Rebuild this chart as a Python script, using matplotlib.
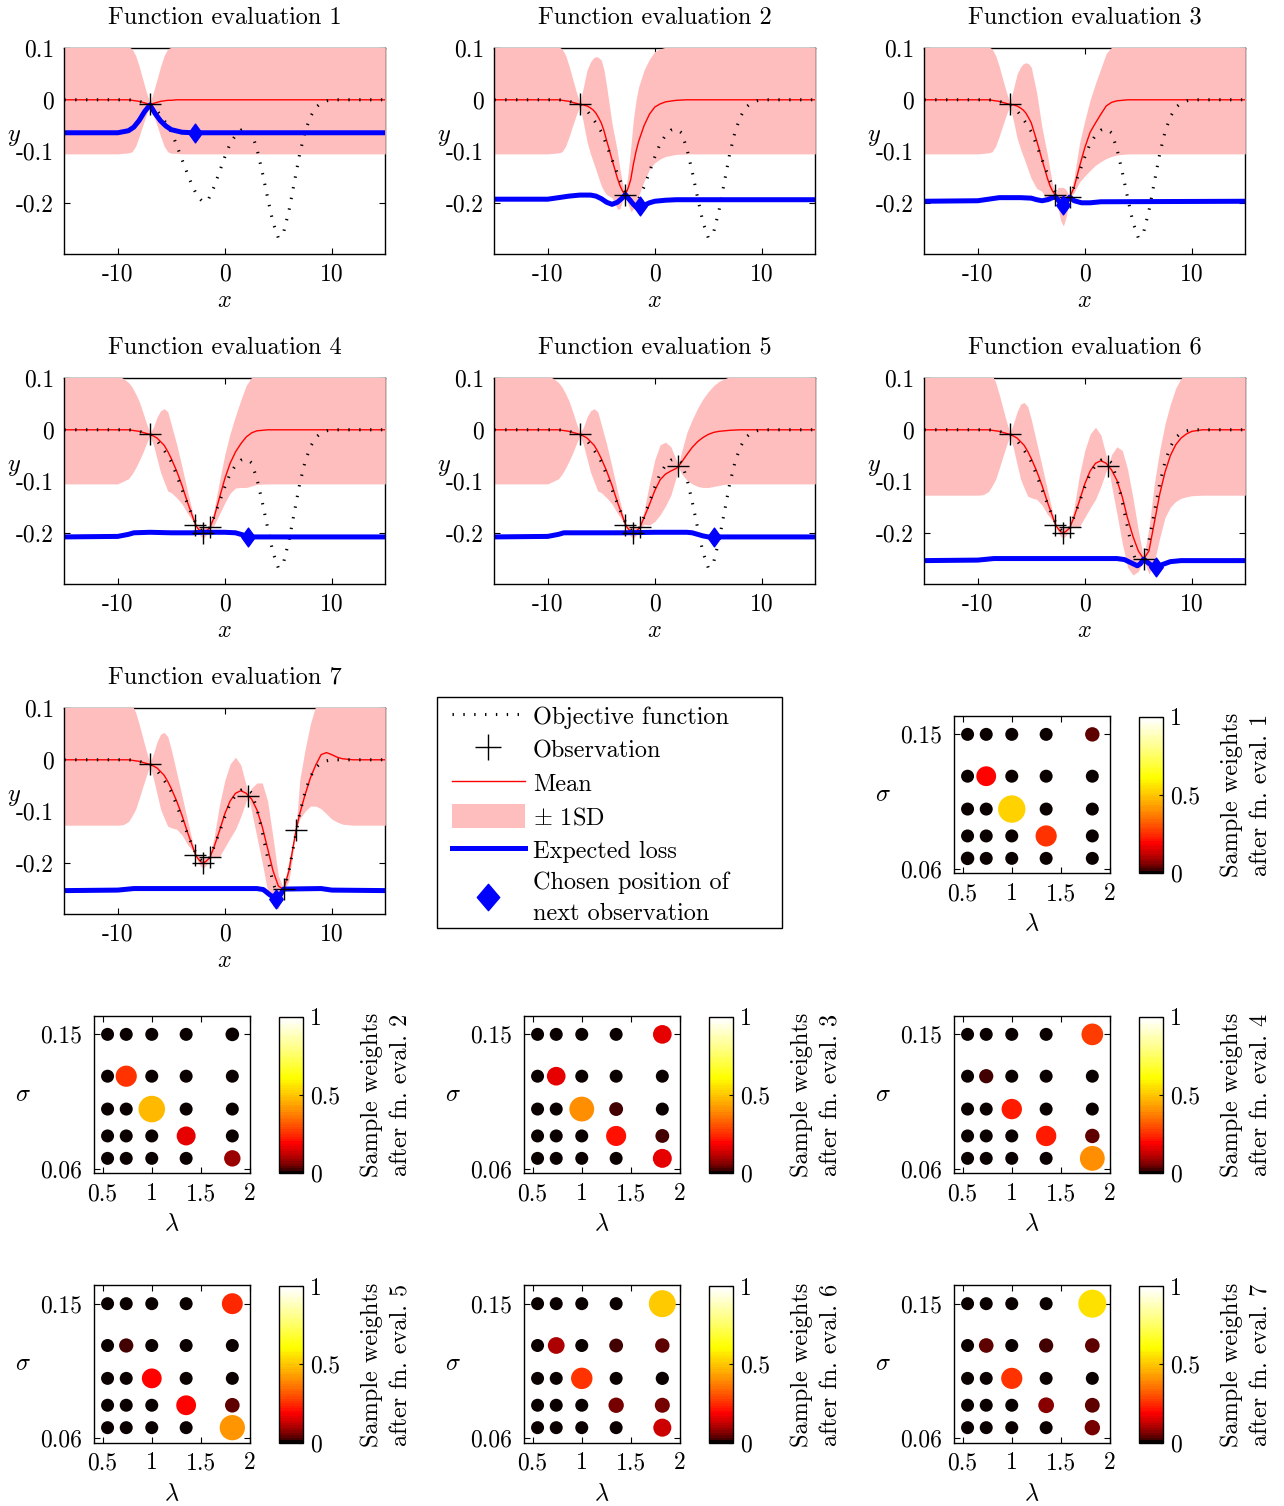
import numpy as np
import matplotlib
matplotlib.use("Agg")
import matplotlib.pyplot as plt
from matplotlib.colors import ListedColormap, Normalize
from matplotlib.cm import ScalarMappable
from matplotlib.lines import Line2D
from matplotlib.patches import Patch, Rectangle
from matplotlib.path import Path

plt.rcParams['font.family'] = ['cmr10', 'DejaVu Serif']
plt.rcParams['mathtext.fontset'] = 'cm'
plt.rcParams['axes.unicode_minus'] = False
plt.rcParams['axes.formatter.use_mathtext'] = False

# ---------------- data ----------------
OBJ_X = [-15, -9, -8.5, -8, -7.5, -7, -6.5, -6, -5.5, -5, -4.5, -4, -3.5, -3, -2.5, -2, -1.5, -1, -0.5, 0,
         0.5, 1, 1.5, 2, 2.5, 3, 3.5, 4, 4.5, 5, 5.5, 6, 6.5, 7, 7.5, 8, 8.5, 9, 9.5, 10, 15]
OBJ_Y = [0, 0, -0.001, -0.003, -0.006, -0.009, -0.017, -0.03, -0.045, -0.062, -0.088, -0.116, -0.143, -0.169,
         -0.189, -0.199, -0.192, -0.169, -0.14, -0.111, -0.085, -0.069, -0.059, -0.056, -0.064, -0.095, -0.14,
         -0.19, -0.238, -0.268, -0.257, -0.215, -0.16, -0.105, -0.062, -0.033, -0.015, -0.006, -0.002, 0, 0]

OBS_X = [-7.0, -2.75, -1.4, -2.0, 2.2, 5.5, 6.66]
OBS_Y = [-0.009, -0.184, -0.189, -0.2, -0.071, -0.251, -0.136]
NEXT_X = [-2.75, -1.4, -2.0, 2.2, 5.5, 6.66, 4.8]
NEXT_Y = [-0.064, -0.206, -0.204, -0.208, -0.208, -0.267, -0.27]

# eval 1
GP1_X = [-15, -10, -9.5, -9, -8.67, -8.33, -8, -7.67, -7.33, -7, -6.67, -6.33, -6, -5.67, -5.33, -5, -4.5, -4, 15]
GP1_MEAN = [0, 0, 0, 0, -0.001, -0.002, -0.003, -0.005, -0.007, -0.009, -0.007, -0.005, -0.003, -0.002, -0.001,
            -0.001, 0, 0, 0]
GP1_LO = [-0.105, -0.105, -0.104, -0.103, -0.101, -0.09, -0.071, -0.05, -0.029, -0.012, -0.029, -0.05, -0.071,
          -0.09, -0.101, -0.104, -0.104, -0.105, -0.105]
GP1_HI = [0.105, 0.105, 0.104, 0.103, 0.099, 0.086, 0.065, 0.04, 0.015, -0.006, 0.015, 0.04, 0.065, 0.086,
          0.099, 0.102, 0.104, 0.105, 0.105]
LOSS1_X = [-15, -10, -9, -8.5, -8, -7.5, -7, -6.5, -6, -5.5, -5, -4, -3, 15]
LOSS1_Y = [-0.064, -0.064, -0.06, -0.053, -0.04, -0.023, -0.01, -0.027, -0.041, -0.051, -0.058, -0.063, -0.064, -0.064]

# eval 2
GP2_X = [-15, -10, -9.5, -9, -8.67, -8.33, -8, -7.67, -7.33, -7, -6.67, -6.33, -6, -5.75, -5.5, -5.25, -5, -4.75,
         -4.5, -4, -3.5, -3.25, -3, -2.75, -2.5, -2.25, -2, -1.75, -1.5, -1, -0.5, 0, 0.5, 1, 2, 3, 15]
GP2_MEAN = [0, 0, 0, 0, -0.001, -0.002, -0.003, -0.005, -0.007, -0.009, -0.01, -0.012, -0.016, -0.02, -0.026,
            -0.035, -0.045, -0.06, -0.079, -0.116, -0.152, -0.167, -0.178, -0.184, -0.172, -0.155, -0.125, -0.1,
            -0.08, -0.05, -0.028, -0.014, -0.008, -0.004, -0.001, 0, 0]
GP2_LO = [-0.105, -0.105, -0.104, -0.103, -0.101, -0.09, -0.071, -0.05, -0.029, -0.012, -0.045, -0.082, -0.106,
          -0.121, -0.136, -0.152, -0.167, -0.177, -0.184, -0.19, -0.212, -0.212, -0.195, -0.186, -0.202, -0.217,
          -0.212, -0.2, -0.186, -0.158, -0.135, -0.122, -0.115, -0.11, -0.106, -0.105, -0.105]
GP2_HI = [0.105, 0.105, 0.104, 0.103, 0.099, 0.086, 0.065, 0.04, 0.015, -0.006, 0.025, 0.058, 0.074, 0.081,
          0.084, 0.082, 0.077, 0.058, 0.026, -0.046, -0.1, -0.135, -0.164, -0.182, -0.142, -0.093, -0.038, 0.0,
          0.026, 0.058, 0.079, 0.094, 0.099, 0.102, 0.104, 0.105, 0.105]
LOSS2_X = [-15, -10, -9, -8, -7, -6, -5.5, -5, -4.5, -4, -3.5, -3, -2.75, -2.4, -2, -1.7, -1.4, -1, -0.5, 0, 1, 2, 15]
LOSS2_Y = [-0.193, -0.193, -0.19, -0.187, -0.185, -0.185, -0.187, -0.192, -0.199, -0.203, -0.199, -0.19, -0.184,
           -0.193, -0.203, -0.209, -0.21, -0.205, -0.2, -0.197, -0.195, -0.194, -0.194]

# eval 3
GP3_X = [-15, -10, -9.5, -9, -8.67, -8.33, -8, -7.67, -7.33, -7, -6.67, -6.33, -6, -5.75, -5.5, -5.25, -5, -4.5,
         -4, -3.5, -3.25, -3, -2.75, -2.5, -2.25, -2, -1.75, -1.4, -1, -0.5, 0, 0.5, 1, 1.5, 2, 2.5, 3, 4, 15]
GP3_MEAN = [0, 0, 0, 0, -0.001, -0.002, -0.003, -0.005, -0.007, -0.009, -0.01, -0.012, -0.016, -0.02, -0.026,
            -0.035, -0.045, -0.079, -0.116, -0.152, -0.167, -0.178, -0.184, -0.19, -0.198, -0.203, -0.2, -0.189,
            -0.17, -0.13, -0.093, -0.063, -0.045, -0.028, -0.012, -0.005, -0.002, 0, 0]
GP3_LO = [-0.105, -0.105, -0.104, -0.103, -0.101, -0.09, -0.071, -0.05, -0.029, -0.012, -0.041, -0.074, -0.096,
          -0.11, -0.124, -0.139, -0.153, -0.172, -0.178, -0.198, -0.197, -0.191, -0.186, -0.21, -0.235, -0.245,
          -0.228, -0.191, -0.18, -0.16, -0.148, -0.137, -0.127, -0.12, -0.114, -0.11, -0.107, -0.105, -0.105]
GP3_HI = [0.105, 0.105, 0.104, 0.103, 0.099, 0.086, 0.065, 0.04, 0.015, -0.006, 0.021, 0.05, 0.064, 0.07,
          0.072, 0.07, 0.063, 0.014, -0.054, -0.106, -0.137, -0.165, -0.182, -0.17, -0.17, -0.17, -0.175, -0.187,
          -0.15, -0.085, -0.04, 0.0, 0.032, 0.061, 0.09, 0.102, 0.105, 0.105, 0.105]
LOSS3_X = [-15, -10, -9, -8, -6, -5, -4.5, -4, -3.5, -3, -2.75, -2.4, -2, -1.7, -1.4, -1, -0.3, 0.5, 1.5, 15]
LOSS3_Y = [-0.197, -0.196, -0.193, -0.19, -0.19, -0.191, -0.194, -0.196, -0.194, -0.19, -0.188, -0.197, -0.205,
           -0.197, -0.189, -0.196, -0.2, -0.2, -0.198, -0.197]

# eval 4
GP4_X = [-15, -10, -9.5, -9, -8.67, -8.33, -8, -7.67, -7.33, -7, -6.67, -6.33, -6, -5.67, -5.33, -5, -4.5, -4,
         -3.5, -3, -2.75, -2.5, -2.25, -2, -1.75, -1.4, -1, -0.5, 0, 0.5, 1, 1.5, 2, 2.5, 3, 4, 15]
GP4_MEAN = [0, 0, 0, 0, -0.001, -0.002, -0.003, -0.005, -0.007, -0.009, -0.012, -0.016, -0.023, -0.03, -0.042,
            -0.056, -0.08, -0.108, -0.14, -0.169, -0.184, -0.192, -0.198, -0.2, -0.197, -0.19, -0.17, -0.132,
            -0.095, -0.065, -0.043, -0.027, -0.014, -0.006, -0.002, 0, 0]
GP4_LO = [-0.105, -0.105, -0.1, -0.095, -0.086, -0.074, -0.06, -0.045, -0.027, -0.012, -0.029, -0.057, -0.083,
          -0.101, -0.119, -0.122, -0.132, -0.144, -0.162, -0.177, -0.186, -0.2, -0.207, -0.21, -0.205, -0.192,
          -0.185, -0.164, -0.142, -0.123, -0.113, -0.112, -0.112, -0.109, -0.106, -0.105, -0.105]
GP4_HI = [0.105, 0.105, 0.1, 0.092, 0.083, 0.07, 0.055, 0.035, 0.013, -0.006, 0.005, 0.025, 0.037, 0.041, 0.035,
          0.01, -0.028, -0.072, -0.118, -0.161, -0.182, -0.184, -0.189, -0.19, -0.189, -0.188, -0.155, -0.1,
          -0.048, -0.007, 0.027, 0.058, 0.086, 0.102, 0.106, 0.105, 0.105]
LOSS4_X = [-15, -10, -9, -8.5, -7, -5, -3, -2, 0, 1, 1.5, 2, 2.3, 15]
LOSS4_Y = [-0.208, -0.207, -0.203, -0.2, -0.199, -0.2, -0.2, -0.199, -0.199, -0.2, -0.203, -0.206, -0.208, -0.208]

# eval 5
GP5_X = [-15, -10, -9.5, -9, -8.67, -8.33, -8, -7.67, -7.33, -7, -6.67, -6.33, -6, -5.67, -5.33, -5, -4.5, -4,
         -3.5, -3, -2.75, -2.5, -2.25, -2, -1.75, -1.4, -1, -0.5, 0, 0.5, 1, 1.5, 2, 2.2, 2.5, 3, 3.5, 4, 4.5, 5,
         5.5, 6, 6.5, 7, 8, 15]
GP5_MEAN = [0, 0, 0, 0, -0.001, -0.002, -0.003, -0.005, -0.007, -0.009, -0.012, -0.016, -0.023, -0.03, -0.042,
            -0.056, -0.08, -0.108, -0.14, -0.169, -0.184, -0.192, -0.198, -0.2, -0.197, -0.19, -0.17, -0.145,
            -0.118, -0.097, -0.086, -0.08, -0.075, -0.071, -0.063, -0.048, -0.034, -0.023, -0.015, -0.009,
            -0.005, -0.003, -0.002, -0.001, 0, 0]
GP5_LO = [-0.105, -0.105, -0.1, -0.095, -0.086, -0.074, -0.06, -0.045, -0.027, -0.012, -0.029, -0.057, -0.083,
          -0.101, -0.119, -0.122, -0.132, -0.144, -0.162, -0.177, -0.186, -0.2, -0.207, -0.21, -0.205, -0.192,
          -0.184, -0.185, -0.178, -0.165, -0.148, -0.127, -0.092, -0.073, -0.085, -0.098, -0.105, -0.11, -0.112,
          -0.112, -0.11, -0.108, -0.106, -0.105, -0.105, -0.105]
GP5_HI = [0.105, 0.105, 0.1, 0.092, 0.083, 0.07, 0.055, 0.035, 0.013, -0.006, 0.005, 0.025, 0.037, 0.041, 0.035,
          0.01, -0.028, -0.072, -0.118, -0.161, -0.182, -0.184, -0.189, -0.19, -0.189, -0.188, -0.156, -0.105,
          -0.058, -0.029, -0.024, -0.033, -0.058, -0.069, -0.043, -0.005, 0.02, 0.042, 0.06, 0.074, 0.086, 0.094,
          0.099, 0.103, 0.105, 0.105]
LOSS5_X = [-15, -10, -9, -8.5, -3, 0, 3, 3.5, 4, 4.5, 5, 5.5, 15]
LOSS5_Y = [-0.208, -0.207, -0.203, -0.2, -0.2, -0.199, -0.199, -0.2, -0.203, -0.206, -0.208, -0.208, -0.208]

# eval 6
GP6_X = [-15, -10, -9.5, -9, -8.67, -8.33, -8, -7.67, -7.33, -7, -6.67, -6.33, -6, -5.67, -5.33, -5, -4.5, -4,
         -3.5, -3, -2.75, -2.5, -2.25, -2, -1.75, -1.4, -1, -0.5, 0, 0.5, 1, 1.5, 2, 2.2, 2.5, 3, 3.5, 4, 4.5, 5,
         5.5, 6, 6.5, 7, 7.5, 8, 8.5, 9, 9.5, 10, 11, 15]
GP6_MEAN = [0, 0, 0, 0, -0.001, -0.002, -0.003, -0.005, -0.007, -0.009, -0.012, -0.016, -0.023, -0.03, -0.042,
            -0.056, -0.08, -0.108, -0.14, -0.169, -0.184, -0.192, -0.198, -0.2, -0.197, -0.19, -0.169, -0.138,
            -0.105, -0.08, -0.065, -0.06, -0.065, -0.07, -0.078, -0.098, -0.13, -0.172, -0.207, -0.235, -0.251,
            -0.235, -0.18, -0.125, -0.082, -0.05, -0.029, -0.016, -0.008, -0.003, 0, 0]
GP6_LO = [-0.127, -0.127, -0.126, -0.12, -0.109, -0.096, -0.075, -0.053, -0.031, -0.012, -0.036, -0.067, -0.096,
          -0.113, -0.129, -0.132, -0.135, -0.146, -0.164, -0.177, -0.186, -0.199, -0.207, -0.21, -0.205, -0.192,
          -0.188, -0.188, -0.17, -0.152, -0.135, -0.11, -0.08, -0.072, -0.108, -0.163, -0.22, -0.267, -0.282,
          -0.275, -0.253, -0.28, -0.256, -0.21, -0.17, -0.15, -0.139, -0.133, -0.13, -0.128, -0.127, -0.127]
GP6_HI = [0.127, 0.127, 0.126, 0.12, 0.107, 0.092, 0.069, 0.043, 0.017, -0.006, 0.012, 0.035, 0.05, 0.053, 0.045,
          0.02, -0.025, -0.07, -0.116, -0.161, -0.182, -0.185, -0.189, -0.19, -0.189, -0.188, -0.15, -0.088, -0.04,
          -0.008, 0.005, -0.01, -0.05, -0.068, -0.048, -0.033, -0.04, -0.077, -0.132, -0.195, -0.249, -0.19,
          -0.104, -0.04, 0.012, 0.05, 0.081, 0.1, 0.11, 0.12, 0.127, 0.127]
LOSS6_X = [-15, -10, -9, -8.5, 3, 3.7, 4.3, 4.9, 5.2, 5.5, 5.9, 6.4, 6.75, 7.2, 8, 9, 15]
LOSS6_Y = [-0.254, -0.253, -0.251, -0.25, -0.25, -0.252, -0.258, -0.264, -0.26, -0.251, -0.258, -0.266, -0.268,
           -0.262, -0.256, -0.254, -0.254]

# eval 7
GP7_X = [-15, -10, -9.5, -9, -8.67, -8.33, -8, -7.67, -7.33, -7, -6.67, -6.33, -6, -5.67, -5.33, -5, -4.5, -4,
         -3.5, -3, -2.75, -2.5, -2.25, -2, -1.75, -1.4, -1, -0.5, 0, 0.5, 1, 1.5, 2, 2.2, 2.5, 3, 3.5, 4, 4.5, 5,
         5.5, 6, 6.66, 7, 7.5, 8, 8.5, 9, 9.5, 10, 10.5, 11, 12, 15]
GP7_MEAN = [0, 0, 0, 0, -0.001, -0.002, -0.003, -0.005, -0.007, -0.009, -0.012, -0.016, -0.023, -0.03, -0.042,
            -0.056, -0.08, -0.108, -0.14, -0.169, -0.184, -0.192, -0.198, -0.2, -0.197, -0.19, -0.169, -0.138,
            -0.105, -0.08, -0.065, -0.06, -0.065, -0.07, -0.076, -0.097, -0.13, -0.172, -0.215, -0.245, -0.252,
            -0.215, -0.136, -0.105, -0.068, -0.035, -0.01, 0.01, 0.014, 0.01, 0.005, 0.002, 0, 0]
GP7_LO = [-0.127, -0.127, -0.126, -0.12, -0.109, -0.096, -0.075, -0.053, -0.031, -0.012, -0.036, -0.067, -0.096,
          -0.113, -0.129, -0.132, -0.135, -0.146, -0.164, -0.177, -0.186, -0.199, -0.207, -0.21, -0.205, -0.192,
          -0.188, -0.188, -0.17, -0.152, -0.135, -0.11, -0.08, -0.072, -0.1, -0.15, -0.2, -0.255, -0.285, -0.29,
          -0.254, -0.235, -0.138, -0.115, -0.1, -0.09, -0.09, -0.095, -0.105, -0.115, -0.121, -0.125, -0.127, -0.127]
GP7_HI = [0.127, 0.127, 0.126, 0.12, 0.107, 0.092, 0.069, 0.043, 0.017, -0.006, 0.012, 0.035, 0.05, 0.053, 0.045,
          0.02, -0.025, -0.07, -0.116, -0.161, -0.182, -0.185, -0.189, -0.19, -0.189, -0.188, -0.15, -0.088, -0.04,
          -0.008, 0.005, -0.01, -0.05, -0.068, -0.055, -0.045, -0.045, -0.08, -0.15, -0.225, -0.25, -0.195, -0.134,
          -0.04, 0.02, 0.07, 0.105, 0.12, 0.125, 0.127, 0.127, 0.127, 0.127, 0.127]
LOSS7_X = [-15, -10, -9, -8.5, 3, 3.6, 4.2, 4.8, 5.2, 5.5, 9, 10, 15]
LOSS7_Y = [-0.254, -0.253, -0.251, -0.25, -0.25, -0.252, -0.262, -0.27, -0.262, -0.251, -0.25, -0.253, -0.254]

GP_X_TICKS = [-10, 0, 10]
GP_X_LABELS = ['-10', '0', '10']
GP_Y_TICKS = [-0.2, -0.1, 0, 0.1]
GP_Y_LABELS = ['-0.2', '-0.1', '0', '0.1']

# hyperparameter sample weights (rows: sigma from 0.15 down to 0.067; cols: lambda)
LAMBDAS = [0.55, 0.74, 1.0, 1.35, 1.82]
SIGMAS = [0.15, 0.122, 0.1, 0.082, 0.067]
W1 = [[0, 0, 0, 0, 0.035], [0, 0.2, 0, 0, 0], [0, 0, 0.52, 0, 0], [0, 0, 0, 0.25, 0], [0.012, 0, 0, 0, 0]]
W2 = [[0, 0, 0, 0, 0.015], [0, 0.25, 0, 0, 0], [0, 0, 0.48, 0, 0], [0, 0, 0, 0.17, 0], [0, 0, 0, 0, 0.09]]
W3 = [[0, 0, 0, 0, 0.16], [0, 0.16, 0, 0, 0], [0, 0, 0.4, 0.02, 0], [0, 0, 0, 0.21, 0.02], [0, 0, 0, 0, 0.17]]
W4 = [[0, 0, 0, 0, 0.27], [0, 0.03, 0, 0, 0], [0, 0, 0.22, 0, 0], [0, 0, 0, 0.22, 0.035], [0, 0, 0, 0, 0.4]]
W5 = [[0, 0, 0, 0, 0.24], [0, 0.03, 0, 0, 0], [0, 0, 0.2, 0, 0], [0, 0, 0, 0.2, 0.04], [0, 0, 0, 0, 0.42]]
W6 = [[0, 0, 0, 0, 0.5], [0, 0.1, 0, 0.02, 0.035], [0, 0, 0.26, 0, 0.005], [0, 0, 0, 0.06, 0.05], [0, 0, 0, 0, 0.14]]
W7 = [[0, 0, 0, 0, 0.55], [0, 0.04, 0, 0.03, 0.04], [0, 0, 0.25, 0, 0], [0, 0, 0, 0.07, 0.045], [0, 0, 0, 0, 0.06]]
W_X_TICKS = [0.5, 1, 1.5, 2]
W_X_LABELS = ['0.5', '1', '1.5', '2']
W_Y_TICKS = [0.06, 0.15]
W_Y_LABELS = ['0.06', '0.15']
CB_TICKS = [0, 0.5, 1]
CB_LABELS = ['0', '0.5', '1']

LEGEND_LABELS = ['Objective function', 'Observation', 'Mean', r'$\pm$ 1SD', 'Expected loss',
                 'Chosen position of\nnext observation']

# ---------------- style / layout ----------------
W, H = 1284, 1506
PINK = '#ffbebe'
FS_TITLE = 17.5
FS_LABEL = 17.5
FS_TICK = 17
FS_LEG = 17.5
DOT_LS = (0, (0.45, 3.1))
DOT_LW = 2.2

DIAMOND = Path([(0, 1), (0.72, 0), (0, -1), (-0.72, 0), (0, 1)],
               [Path.MOVETO, Path.LINETO, Path.LINETO, Path.LINETO, Path.CLOSEPOLY])
DIAMOND_LEG = Path([(0, 1), (0.85, 0), (0, -1), (-0.85, 0), (0, 1)],
                   [Path.MOVETO, Path.LINETO, Path.LINETO, Path.LINETO, Path.CLOSEPOLY])

cmap = ListedColormap(plt.get_cmap('hot')(np.linspace(0, 1, 64) ** 0.6))
norm = Normalize(0, 1)


def rect(l, t, w, h):
    return [l / W, 1 - (t + h) / H, w / W, h / H]


fig = plt.figure(figsize=(W / 100, H / 100), dpi=100)

GP = [(GP1_X, GP1_MEAN, GP1_LO, GP1_HI, LOSS1_X, LOSS1_Y),
      (GP2_X, GP2_MEAN, GP2_LO, GP2_HI, LOSS2_X, LOSS2_Y),
      (GP3_X, GP3_MEAN, GP3_LO, GP3_HI, LOSS3_X, LOSS3_Y),
      (GP4_X, GP4_MEAN, GP4_LO, GP4_HI, LOSS4_X, LOSS4_Y),
      (GP5_X, GP5_MEAN, GP5_LO, GP5_HI, LOSS5_X, LOSS5_Y),
      (GP6_X, GP6_MEAN, GP6_LO, GP6_HI, LOSS6_X, LOSS6_Y),
      (GP7_X, GP7_MEAN, GP7_LO, GP7_HI, LOSS7_X, LOSS7_Y)]
GP_LEFTS = [64.3, 494.3, 924.3]
GP_TOPS = [48.3, 378.3, 708.3]
GP_W, GP_H = 321, 206

for k, (gx, gm, glo, ghi, lx, ly) in enumerate(GP):
    ax = fig.add_axes(rect(GP_LEFTS[k % 3], GP_TOPS[k // 3], GP_W, GP_H))
    ax.fill_between(gx, glo, ghi, color=PINK, lw=0, zorder=2.6)
    ax.plot(gx, gm, color='r', lw=1.0, zorder=3.0)
    ax.plot(OBJ_X, OBJ_Y, color='k', lw=DOT_LW, ls=DOT_LS, dash_capstyle='butt', zorder=3.1)
    ax.plot(lx, ly, color='b', lw=3.6, zorder=3.2, solid_joinstyle='round')
    ax.plot(OBS_X[:k + 1], OBS_Y[:k + 1], ls='none', marker='+', ms=16, mew=1.0, color='k', zorder=3.4)
    ax.plot([NEXT_X[k]], [NEXT_Y[k]], ls='none', marker=DIAMOND, ms=13.5, color='b', mec='b', zorder=3.5)
    ax.set_xlim(-15, 15)
    ax.set_ylim(-0.3, 0.1)
    ax.set_xticks(GP_X_TICKS)
    ax.set_xticklabels(GP_X_LABELS)
    ax.set_yticks(GP_Y_TICKS)
    ax.set_yticklabels(GP_Y_LABELS)
    ax.tick_params(direction='in', length=4, width=0.8, top=True, right=True, labelsize=FS_TICK)
    ax.tick_params(axis='x', pad=6.5)
    ax.tick_params(axis='y', pad=7.5)
    for s in ax.spines.values():
        s.set_linewidth(1.0)
    ax.spines['left'].set_zorder(3.6)
    ax.spines['bottom'].set_zorder(3.6)
    ax.set_title('Function evaluation %d' % (k + 1), fontsize=FS_TITLE, pad=17.5)
    ax.text(0.5, -0.225, '$x$', transform=ax.transAxes, ha='center', va='center', fontsize=FS_LABEL)
    ax.text(-0.157, 0.57, '$y$', transform=ax.transAxes, ha='center', va='center', fontsize=FS_LABEL)

# ---------------- legend ----------------
handles = [Line2D([], [], color='k', lw=DOT_LW, ls=DOT_LS, dash_capstyle='butt'),
           Line2D([], [], color='k', ls='none', marker='+', ms=19, mew=1.0),
           Line2D([], [], color='r', lw=1.0),
           Patch(facecolor=PINK, edgecolor='none'),
           Line2D([], [], color='b', lw=3.6),
           Line2D([], [], color='b', ls='none', marker=DIAMOND_LEG, ms=19)]
leg = fig.legend(handles, LEGEND_LABELS, loc='upper left',
                 bbox_to_anchor=(451.7 / W, 1 - 704 / H), bbox_transform=fig.transFigure,
                 frameon=False, fontsize=FS_LEG, borderpad=0, borderaxespad=0,
                 handlelength=3.0, handleheight=1.1, handletextpad=0.35, labelspacing=0.35)
leg.get_texts()[-1].set_linespacing(1.55)
fig.patches.append(Rectangle(((437.3) / W, 1 - 928.3 / H), (782.3 - 437.3) / W, (928.3 - 696.7) / H,
                             transform=fig.transFigure, fill=False, ec='k', lw=1.0))

# ---------------- weight panels ----------------
WEIGHTS = [W1, W2, W3, W4, W5, W6, W7]
W_POS = [(954.3, 715.7), (94.3, 1015.7), (524.3, 1015.7), (954.3, 1015.7),
         (94.3, 1285.0), (524.3, 1285.0), (954.3, 1285.0)]
WA_W, WA_H = 155.7, 157.6
LG, SG = np.meshgrid(LAMBDAS, SIGMAS)

for k, (wts, (l, t)) in enumerate(zip(WEIGHTS, W_POS)):
    wv = np.array(wts, dtype=float)
    ax = fig.add_axes(rect(l, t, WA_W, WA_H))
    ax.scatter(LG.ravel(), SG.ravel(), s=87.6 + 580 * wv.ravel(), c=wv.ravel(), cmap=cmap, norm=norm,
               edgecolors='none', zorder=3)
    ax.set_xlim(0.415, 2.0)
    ax.set_ylim(0.057, 0.1625)
    ax.set_xticks(W_X_TICKS)
    ax.set_xticklabels(W_X_LABELS)
    ax.set_yticks(W_Y_TICKS)
    ax.set_yticklabels(W_Y_LABELS)
    ax.tick_params(direction='in', length=4, width=0.8, top=True, right=True, labelsize=FS_TICK)
    ax.tick_params(axis='x', pad=7)
    ax.tick_params(axis='y', pad=8.5)
    for s in ax.spines.values():
        s.set_linewidth(1.0)
    ax.text(-0.458, 0.497, r'$\sigma$', transform=ax.transAxes, ha='center', va='center', fontsize=FS_LABEL)
    ax.text(0.499, -0.325, r'$\lambda$', transform=ax.transAxes, ha='center', va='center', fontsize=FS_LABEL)

    cax = fig.add_axes(rect(l + 185, t + 1, 23.4, 156.6))
    cb = fig.colorbar(ScalarMappable(norm=norm, cmap=cmap), cax=cax, ticks=CB_TICKS)
    cb.set_ticklabels(CB_LABELS)
    cb.outline.set_linewidth(1.0)
    cax.tick_params(direction='in', length=3, width=0.8, labelsize=FS_TICK, pad=5)
    fig.text((l + 292.2) / W, 1 - (t + 79.5) / H, 'Sample weights\nafter fn. eval. %d' % (k + 1),
             rotation=90, ha='center', va='center', multialignment='center',
             fontsize=FS_LABEL, linespacing=1.4)

fig.savefig('out.png', dpi=100, facecolor='white')
